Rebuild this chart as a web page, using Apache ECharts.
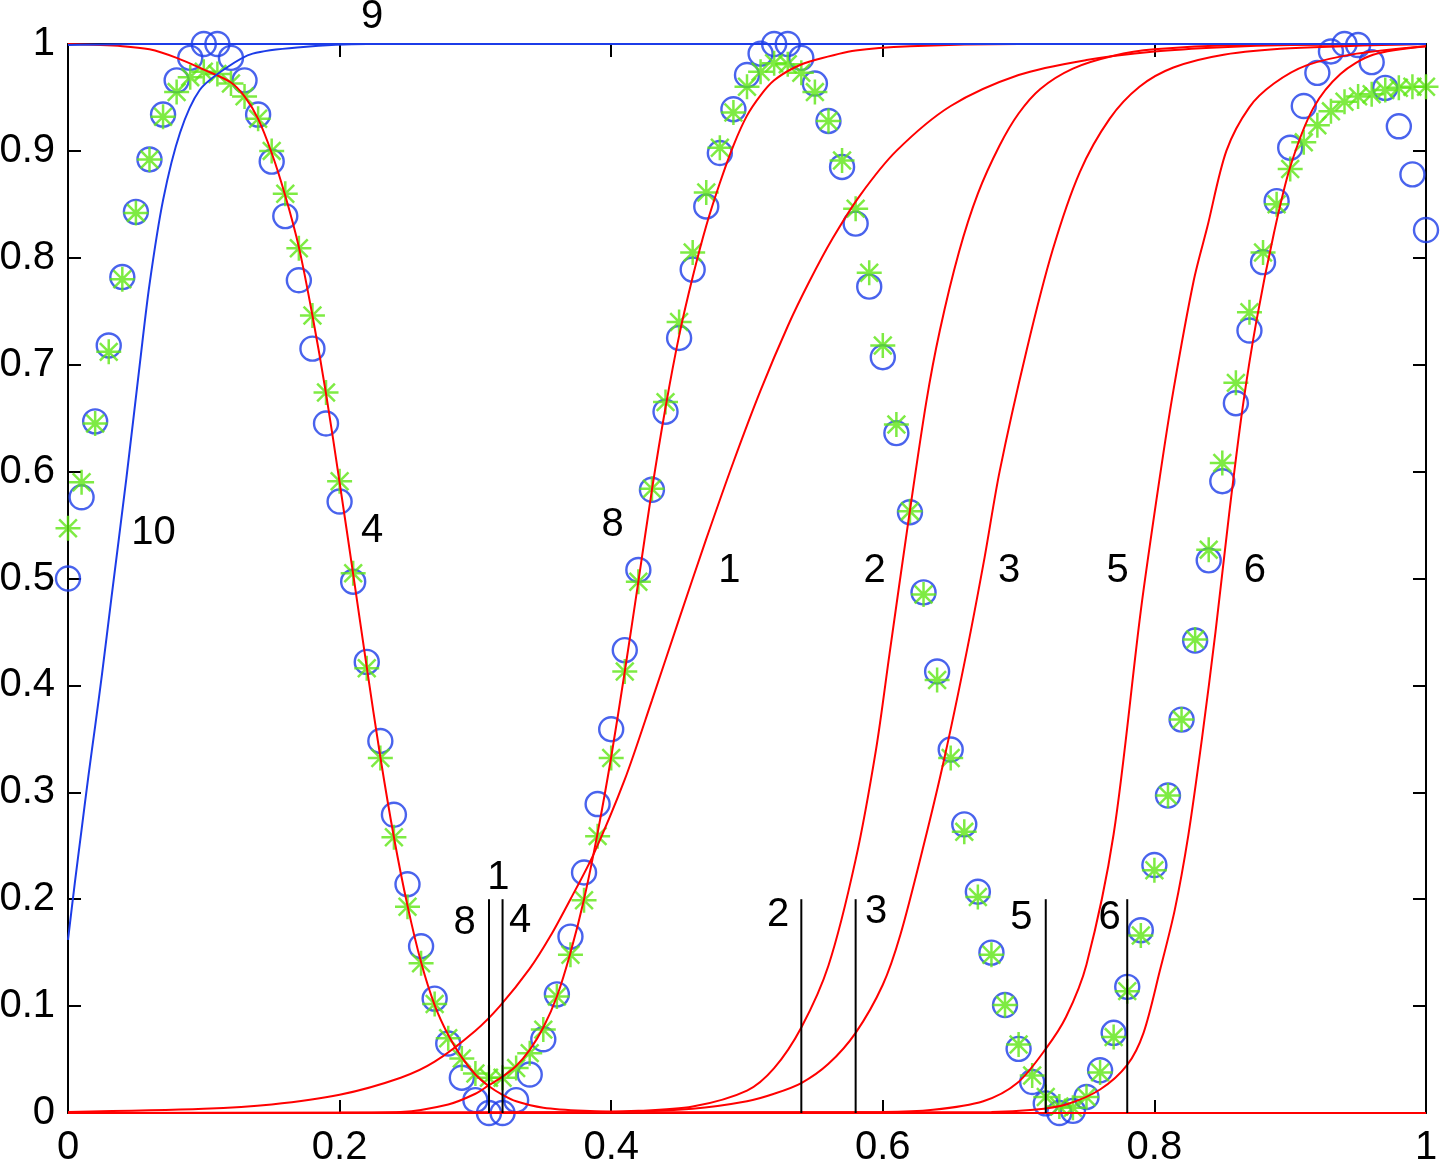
<!DOCTYPE html>
<html>
<head>
<meta charset="utf-8">
<script src="https://cdn.jsdelivr.net/npm/echarts@6.0.0/dist/echarts.min.js"></script>
<style>
  html, body { margin: 0; padding: 0; background: #fff; }
  #chart { width: 1440px; height: 1165px; }
</style>
</head>
<body>
<div id="chart"></div>
<script>
// sample positions of the marker data (0 .. 1, step 0.01)
var sampleX = [
  0, 0.01, 0.02, 0.03, 0.04, 0.05, 0.06, 0.07, 0.08, 0.09,
  0.10, 0.11, 0.12, 0.13, 0.14, 0.15, 0.16, 0.17, 0.18, 0.19,
  0.20, 0.21, 0.22, 0.23, 0.24, 0.25, 0.26, 0.27, 0.28, 0.29,
  0.30, 0.31, 0.32, 0.33, 0.34, 0.35, 0.36, 0.37, 0.38, 0.39,
  0.40, 0.41, 0.42, 0.43, 0.44, 0.45, 0.46, 0.47, 0.48, 0.49,
  0.50, 0.51, 0.52, 0.53, 0.54, 0.55, 0.56, 0.57, 0.58, 0.59,
  0.60, 0.61, 0.62, 0.63, 0.64, 0.65, 0.66, 0.67, 0.68, 0.69,
  0.70, 0.71, 0.72, 0.73, 0.74, 0.75, 0.76, 0.77, 0.78, 0.79,
  0.80, 0.81, 0.82, 0.83, 0.84, 0.85, 0.86, 0.87, 0.88, 0.89,
  0.90, 0.91, 0.92, 0.93, 0.94, 0.95, 0.96, 0.97, 0.98, 0.99, 1.00
];

// blue circles
var circleY = [
  0.500, 0.576, 0.647, 0.718, 0.782, 0.843, 0.892, 0.934, 0.966, 0.987,
  1.000, 1.000, 0.987, 0.966, 0.934, 0.890, 0.839, 0.779, 0.715, 0.645,
  0.572, 0.497, 0.422, 0.348, 0.279, 0.214, 0.156, 0.107, 0.065, 0.033,
  0.012, 0.000, 0.000, 0.012, 0.036, 0.069, 0.111, 0.165, 0.225, 0.289,
  0.359, 0.433, 0.508, 0.583, 0.656, 0.725, 0.789, 0.848, 0.898, 0.939,
  0.971, 0.991, 1.000, 1.000, 0.987, 0.963, 0.928, 0.885, 0.832, 0.773,
  0.707, 0.636, 0.562, 0.487, 0.413, 0.340, 0.270, 0.207, 0.150, 0.101,
  0.060, 0.029, 0.009, 0.000, 0.002, 0.015, 0.040, 0.075, 0.118, 0.171,
  0.232, 0.297, 0.368, 0.442, 0.517, 0.591, 0.664, 0.732, 0.796, 0.853,
  0.903, 0.942, 0.973, 0.993, 1.000, 0.999, 0.983, 0.959, 0.923, 0.878, 0.826
];

// green asterisks
var starY = [
  0.547, 0.590, 0.645, 0.712, 0.780, 0.842, 0.892, 0.932, 0.955, 0.969,
  0.974, 0.972, 0.963, 0.951, 0.930, 0.900, 0.860, 0.809, 0.746, 0.674,
  0.591, 0.505, 0.416, 0.332, 0.258, 0.193, 0.140, 0.102, 0.070, 0.051,
  0.037, 0.033, 0.033, 0.042, 0.056, 0.078, 0.109, 0.148, 0.199, 0.259,
  0.332, 0.413, 0.497, 0.584, 0.665, 0.740, 0.805, 0.861, 0.903, 0.936,
  0.960, 0.974, 0.982, 0.981, 0.973, 0.955, 0.928, 0.891, 0.846, 0.786,
  0.718, 0.644, 0.563, 0.485, 0.405, 0.332, 0.263, 0.202, 0.148, 0.101,
  0.064, 0.035, 0.015, 0.006, 0.005, 0.015, 0.038, 0.071, 0.114, 0.166,
  0.227, 0.297, 0.368, 0.443, 0.527, 0.608, 0.683, 0.749, 0.805, 0.850,
  0.883, 0.908, 0.924, 0.937, 0.946, 0.951, 0.953, 0.957, 0.959, 0.960, 0.960
];

// red curves, [x, y]
var curve1 = [[0,0.001],[0.1,0.004],[0.15,0.008],[0.2,0.017],[0.245,0.033],[0.27,0.048],[0.3,0.077],
  [0.318,0.1],[0.34,0.135],[0.355,0.165],[0.37,0.2],[0.387,0.242],[0.41,0.312],[0.43,0.386],[0.45,0.462],
  [0.47,0.537],[0.49,0.609],[0.51,0.676],[0.53,0.736],[0.546,0.778],[0.563,0.818],[0.583,0.858],[0.61,0.9],
  [0.65,0.942],[0.7,0.971],[0.75,0.985],[0.8,0.993],[0.85,0.997],[0.9,0.999],[1,1]];
var curve2 = [[0,0],[0.35,0.0003],[0.42,0.002],[0.46,0.006],[0.5,0.021],[0.52,0.042],[0.54,0.08],[0.56,0.138],
  [0.58,0.237],[0.595,0.34],[0.605,0.43],[0.619,0.555],[0.632,0.665],[0.642,0.732],[0.656,0.805],[0.67,0.86],
  [0.686,0.905],[0.7,0.935],[0.716,0.958],[0.74,0.977],[0.77,0.989],[0.8,0.995],[0.86,0.999],[1,1]];
var curve3 = [[0,0],[0.4,0.001],[0.46,0.004],[0.5,0.011],[0.52,0.018],[0.54,0.028],[0.56,0.046],[0.58,0.075],[0.6,0.12],
  [0.613,0.167],[0.63,0.25],[0.645,0.33],[0.662,0.433],[0.675,0.52],[0.686,0.6],[0.706,0.714],[0.725,0.807],
  [0.745,0.88],[0.767,0.93],[0.789,0.96],[0.814,0.978],[0.851,0.99],[0.9,0.996],[1,1]];
var curve4 = [[0,1],[0.04,0.998],[0.06,0.995],[0.08,0.987],[0.1,0.976],[0.12,0.964],[0.13,0.951],[0.14,0.93],
  [0.15,0.898],[0.16,0.858],[0.17,0.81],[0.18,0.746],[0.19,0.673],[0.2,0.59],[0.21,0.504],[0.22,0.417],
  [0.23,0.333],[0.24,0.258],[0.25,0.194],[0.26,0.141],[0.27,0.101],[0.28,0.073],[0.29,0.052],[0.3,0.036],
  [0.31,0.025],[0.32,0.017],[0.33,0.011],[0.35,0.005],[0.38,0.002],[0.42,0.0005],[0.5,0],[1,0]];
var curve5 = [[0,0],[0.6,0.001],[0.637,0.003],[0.674,0.011],[0.699,0.028],[0.72,0.06],[0.735,0.09],[0.75,0.139],
  [0.77,0.261],[0.79,0.47],[0.804,0.595],[0.814,0.676],[0.829,0.779],[0.839,0.829],[0.853,0.9],[0.87,0.941],
  [0.888,0.963],[0.912,0.98],[0.949,0.991],[1,0.998]];
var curve6 = [[0,0],[0.68,0.001],[0.711,0.003],[0.735,0.008],[0.76,0.022],[0.78,0.045],[0.792,0.075],[0.804,0.133],
  [0.815,0.19],[0.825,0.26],[0.835,0.35],[0.845,0.45],[0.855,0.56],[0.865,0.66],[0.875,0.74],[0.888,0.823],
  [0.9,0.885],[0.917,0.94],[0.937,0.972],[0.961,0.99],[1,0.998]];
var curve8 = [[0,0],[0.2,0.0002],[0.245,0.001],[0.28,0.008],[0.3,0.018],[0.31,0.026],[0.32,0.034],[0.33,0.044],
  [0.34,0.059],[0.35,0.08],[0.36,0.109],[0.37,0.15],[0.38,0.2],[0.39,0.262],[0.4,0.333],[0.41,0.413],
  [0.42,0.497],[0.43,0.583],[0.44,0.66],[0.45,0.727],[0.46,0.782],[0.47,0.83],[0.48,0.87],[0.49,0.905],
  [0.5,0.933],[0.51,0.952],[0.52,0.966],[0.535,0.978],[0.55,0.985],[0.58,0.994],[0.62,0.998],[0.7,1],[1,1]];

// blue curves
var curve9 = [[0,0.999],[0.05,1],[1,1]];
var curve10 = [[0,0.162],[0.005,0.215],[0.01,0.265],[0.015,0.315],[0.02,0.362],[0.025,0.41],[0.032,0.482],
  [0.043,0.594],[0.053,0.702],[0.06,0.775],[0.07,0.854],[0.0825,0.917],[0.097,0.957],[0.117,0.978],
  [0.136,0.991],[0.171,0.997],[0.22,1],[1,1]];

// black markers (x position, height 0.2)
var markX = [0.31, 0.32, 0.54, 0.58, 0.72, 0.78];
var markTop = 0.2;

// text labels and their anchor in data units
var labelText = ['9', '10', '4', '8', '1', '2', '3', '5', '6', '1', '8', '4', '2', '3', '5', '6'];
var labelAt = [[0.224,1.025],[0.063,0.543],[0.224,0.544],[0.401,0.55],[0.487,0.507],[0.594,0.507],
  [0.693,0.507],[0.773,0.507],[0.874,0.507],[0.317,0.22],[0.292,0.178],[0.333,0.18],[0.523,0.185],
  [0.595,0.188],[0.702,0.182],[0.767,0.182]];

var FONT = '"Liberation Sans", Arial, Helvetica, sans-serif';
var BLUE = '#1c3ce8';
var GREEN = '#5ee614';
var RED = '#ff0000';

var chart = echarts.init(document.getElementById('chart'));

function frameAxis(pos, step, showLabel, margin) {
  return {
    type: 'value', min: 0, max: 1, interval: step, position: pos,
    axisLine: { show: true, onZero: false, lineStyle: { color: '#000', width: 2 } },
    axisTick: { show: true, inside: true, length: 13, lineStyle: { color: '#000', width: 2 } },
    axisLabel: { show: showLabel, fontSize: 40, color: '#000', fontFamily: FONT, margin: margin },
    splitLine: { show: false }
  };
}

function curveSeries(data, color) {
  return {
    type: 'line', data: data, showSymbol: false, symbol: 'none',
    smooth: 0.3, clip: false,
    lineStyle: { color: color, width: 2 }, silent: true
  };
}

var series = [];
series.push({
  type: 'scatter', clip: false,
  data: sampleX.map(function (x, i) { return [x, circleY[i]]; }),
  symbol: 'circle', symbolSize: 24,
  itemStyle: { color: 'rgba(0,0,0,0)', borderColor: BLUE, borderWidth: 2.4 }
});
series.push({
  type: 'scatter', clip: false,
  data: sampleX.map(function (x, i) { return [x, starY[i]]; }),
  symbol: 'path://M12 0L12 24M0 12L24 12M3.5 3.5L20.5 20.5M3.5 20.5L20.5 3.5',
  symbolSize: 25,
  itemStyle: { color: 'rgba(0,0,0,0)', borderColor: GREEN, borderWidth: 2.5 }
});
[curve1, curve2, curve3, curve4, curve5, curve6, curve8].forEach(function (c) {
  series.push(curveSeries(c, RED));
});
series.push(curveSeries(curve10, BLUE));
series.push(curveSeries(curve9, BLUE));
markX.forEach(function (x) {
  series.push({
    type: 'line', data: [[x, 0], [x, markTop]], symbol: 'none', clip: false,
    lineStyle: { color: '#000', width: 2 }, silent: true
  });
});

chart.setOption({
  animation: false,
  backgroundColor: '#fff',
  grid: { left: 68, right: 14, top: 44, bottom: 52, containLabel: false, outerBoundsMode: 'none' },
  xAxis: [frameAxis('bottom', 0.2, true, 15), frameAxis('top', 0.2, false, 15)],
  yAxis: [frameAxis('left', 0.1, true, 13), frameAxis('right', 0.1, false, 13)],
  series: series
});

// number labels, placed through the axes' own scales
chart.setOption({
  graphic: labelText.map(function (t, i) {
    var p = chart.convertToPixel({ xAxisIndex: 0, yAxisIndex: 0 }, labelAt[i]);
    return {
      type: 'text', x: p[0], y: p[1], silent: true,
      style: { text: t, fill: '#000', font: '40px ' + FONT, align: 'center', verticalAlign: 'middle' }
    };
  })
});
</script>
</body>
</html>
